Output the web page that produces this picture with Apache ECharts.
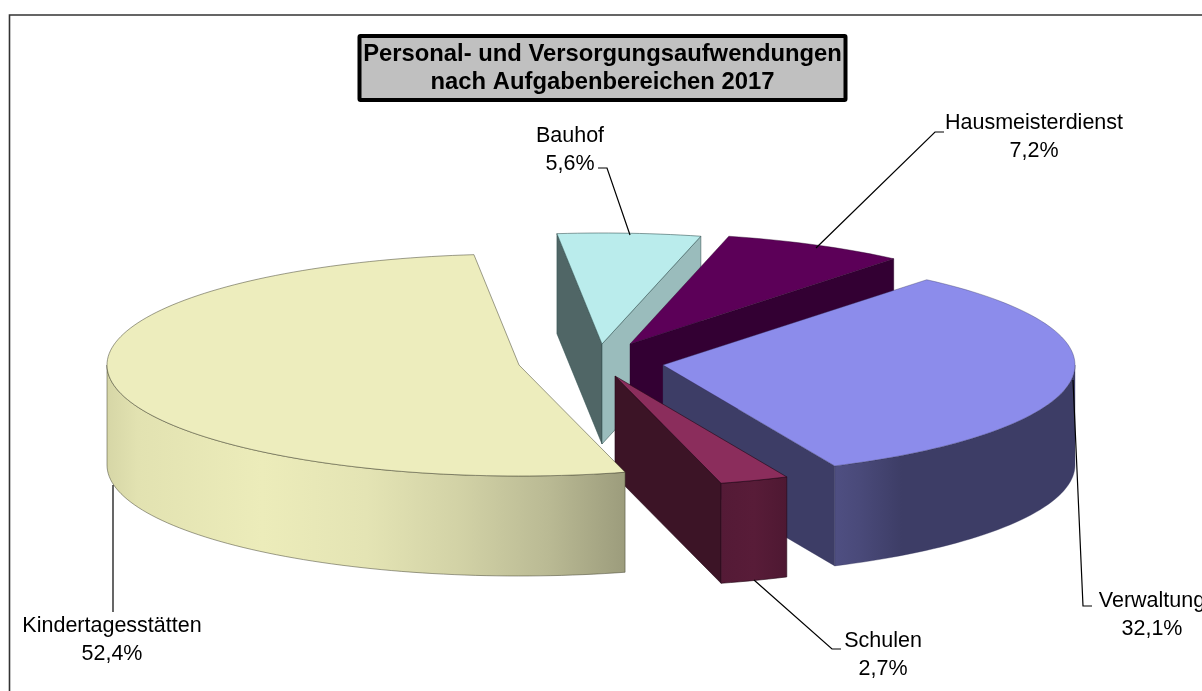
<!DOCTYPE html>
<html>
<head>
<meta charset="utf-8">
<style>html,body{margin:0;padding:0;background:#fff;overflow:hidden}#c{width:1202px;height:691px}</style>
<script src="https://cdn.jsdelivr.net/npm/echarts@6/dist/echarts.min.js"></script>
</head>
<body>
<div id="c"></div>
<script>
// ---- data ----
const categories = ['Verwaltung', 'Schulen', 'Kindertagesstätten', 'Bauhof', 'Hausmeisterdienst'];
const shares = [32.1, 2.7, 52.4, 5.6, 7.2];
const titleLines = ['Personal- und Versorgungsaufwendungen', 'nach Aufgabenbereichen 2017'];

// ---- layout / style (not data) ----
const FONT = '"Liberation Sans", Arial, sans-serif';
const firstAngle = 39.8, radiusX = 412, radiusY = 111, depth = 100;
const pieCentre = [600, 362];
const explode = [[63, 3], [15, 14], [-81, 3], [2, -18], [30, -18]];
const drawOrder = [3, 4, 0, 1, 2];
const tops = ['#8C8CEB', '#8B2D5C', '#EDEDBD', '#BAECEC', '#5C0058'];
const edges = ['rgba(50,50,90,.45)', 'rgba(40,10,25,.8)', 'rgba(70,70,50,.65)', 'rgba(50,80,80,.7)', 'rgba(40,0,40,.5)'];
const startWalls = ['#3D3D66', '#3C1426', '#B0B088', '#506666', '#330033'];
const endWalls = ['#3D3D66', '#3C1426', '#B0B088', '#9ABCBC', '#330033'];
const outerWalls = [
  [[0, '#4F4F82'], [0.1, '#4A4A7A'], [0.28, '#3D3D66'], [1, '#3D3D66']],
  [[0, '#541A36'], [0.5, '#581C38'], [1, '#4E1832']],
  [[0, '#D6D6A6'], [0.06, '#E2E2B1'], [0.3, '#ECECBA'], [0.5, '#E4E4B4'], [0.68, '#D2D2A6'], [0.85, '#BABA94'], [1, '#9C9C7C']],
  [[0, '#9ABCBC'], [1, '#9ABCBC']],
  [[0, '#330033'], [1, '#330033']]
];
const labelAnchors = [[1152, 615], [883, 655.5], [112, 640], [570, 150], [1034, 137.5]];
const leaderPaths = [
  [[1092, 606], [1083, 606], [1073, 380]],
  [[841, 649], [832, 649], [754, 580]],
  [[113, 612], [113, 485]],
  [[598, 168], [607, 168], [630, 235]],
  [[944, 132], [935, 132], [816, 248]]
];

// ---- geometry from the shares ----
const total = shares.reduce((a, b) => a + b, 0);
const sweeps = shares.map(v => v / total * 360);
const starts = sweeps.map((_, i) => firstAngle + sweeps.slice(0, i).reduce((a, b) => a + b, 0));
const rad = d => d * Math.PI / 180;
function rim(c, deg) { return [c[0] + radiusX * Math.sin(rad(deg)), c[1] - radiusY * Math.cos(rad(deg))]; }
function arc(c, a0, a1) {
  const n = Math.max(2, Math.ceil(Math.abs(a1 - a0) / 1.5)), pts = [];
  for (let k = 0; k <= n; k++) pts.push(rim(c, a0 + (a1 - a0) * k / n));
  return pts;
}
const down = p => [p[0], p[1] + depth];
function wall(a, p, color, stroke) {
  return { type: 'polygon', shape: { points: [a, p, down(p), down(a)] }, style: { fill: color, stroke: stroke, lineWidth: 0.8 } };
}
function wallFaces(a, p, q) {
  // a radial wall shows when the slice's top surface lies above its top edge on screen
  const cross = (p[0] - a[0]) * (q[1] - a[1]) - (p[1] - a[1]) * (q[0] - a[0]);
  return p[0] >= a[0] ? cross < 0 : cross > 0;
}
function renderSlice(params) {
  const i = drawOrder[params.dataIndex];
  const c = [pieCentre[0] + explode[i][0], pieCentre[1] + explode[i][1]];
  const a0 = starts[i], a1 = a0 + sweeps[i];
  const kids = [];
  const pS = rim(c, a0), pE = rim(c, a1);
  if (wallFaces(c, pS, rim(c, a0 + 1))) kids.push(wall(c, pS, startWalls[i], edges[i]));
  if (wallFaces(c, pE, rim(c, a1 - 1))) kids.push(wall(c, pE, endWalls[i], edges[i]));
  // front part of the rim: clockwise angles between 90 and 270
  const f0 = Math.max(a0, 90), f1 = Math.min(a1, 270);
  if (f1 > f0) {
    const upper = arc(c, f0, f1), lower = upper.map(down).reverse();
    kids.push({
      type: 'polygon', shape: { points: upper.concat(lower) },
      style: {
        fill: { type: 'linear', x: 0, y: 0, x2: 1, y2: 0, colorStops: outerWalls[i].map(s => ({ offset: s[0], color: s[1] })) },
        stroke: edges[i], lineWidth: 0.8
      }
    });
  }
  kids.push({ type: 'polygon', shape: { points: [c].concat(arc(c, a0, a1)) }, style: { fill: tops[i], stroke: edges[i], lineWidth: 0.8 } });
  kids.push({ type: 'polyline', shape: { points: leaderPaths[i] }, z2: 20, style: { fill: null, stroke: '#000', lineWidth: 1.2 } });
  kids.push({
    type: 'text', x: labelAnchors[i][0], y: labelAnchors[i][1], z2: 30,
    style: {
      text: categories[i] + '\n' + shares[i].toFixed(1).replace('.', ',') + '%',
      fill: '#000', font: '21.5px ' + FONT, lineHeight: 28, align: 'center', verticalAlign: 'middle'
    }
  });
  return { type: 'group', children: kids };
}

const chart = echarts.init(document.getElementById('c'), null, { renderer: 'canvas' });
chart.setOption({
  animation: false,
  backgroundColor: '#fff',
  title: {
    text: titleLines.join('\n'),
    left: 599, top: 36, padding: [4, 3.5, 4, 3.5], textAlign: 'center',
    backgroundColor: '#C0C0C0', borderColor: '#000', borderWidth: 4, borderRadius: 1,
    textStyle: { fontFamily: FONT, fontWeight: 'bold', fontSize: 23.8, lineHeight: 28, color: '#000' }
  },
  graphic: [{
    type: 'polyline', silent: true, z: 1,
    shape: { points: [[9.5, 691], [9.5, 15], [1202, 15]] },
    style: { fill: null, stroke: '#333', lineWidth: 1.6 }
  }],
  series: [{
    type: 'custom', coordinateSystem: 'none', silent: true, z: 2,
    data: drawOrder.map(i => ({ name: categories[i], value: shares[i] })),
    renderItem: renderSlice
  }]
});
</script>
</body>
</html>
